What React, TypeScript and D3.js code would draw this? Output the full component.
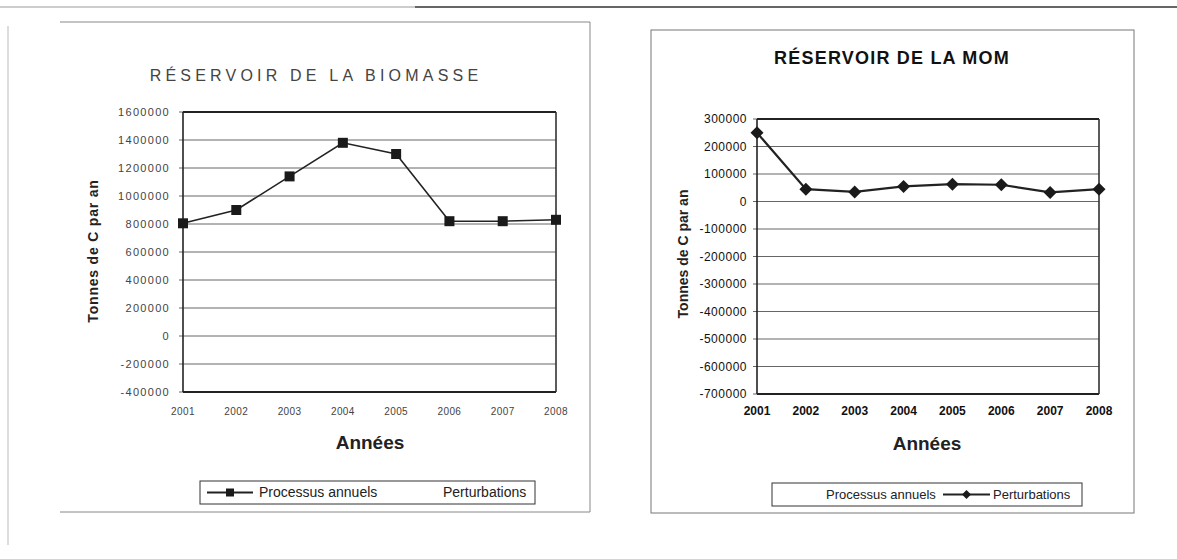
import React from "react";
import * as d3 from "d3";

const years = [2001, 2002, 2003, 2004, 2005, 2006, 2007, 2008];
const biomasseProcessus = [805000, 900000, 1140000, 1380000, 1300000, 820000, 820000, 830000];
const momPerturbations = [250000, 45000, 35000, 55000, 63000, 61000, 33000, 45000];
const biomasseTicks = [1600000, 1400000, 1200000, 1000000, 800000, 600000, 400000, 200000, 0, -200000, -400000];
const momTicks = [300000, 200000, 100000, 0, -100000, -200000, -300000, -400000, -500000, -600000, -700000];
const legendLabels = ["Processus annuels", "Perturbations"];
const titles = ["RÉSERVOIR DE LA BIOMASSE", "RÉSERVOIR DE LA MOM"];
const yTitle = "Tonnes de C par an";
const xTitle = "Années";

const FONT = "'Liberation Sans', Arial, sans-serif";

type Style = {
  textColor: string;
  titleSize: number; titleBold: boolean; titleSpacing: number;
  tickSize: number; tickSpacing: number; tickGap: number;
  xTickSize: number; xTickBold: boolean; xTickSpacing: number; xTickDy: number;
  yTitleSize: number; yTitleSpacing: number;
  legendSize: number;
  lineWidth: number;
};

type ChartProps = {
  title: string;
  values: number[];
  ticks: number[];
  x0: number; x1: number; y0: number; y1: number;
  marker: "square" | "diamond";
  titleX: number; titleY: number;
  yTitleX: number; yTitleY: number;
  xTitleX: number; xTitleY: number;
  legend: { x: number; y: number; w: number; h: number; textA: number; textB: number; lineA: number; lineB: number };
  st: Style;
};

function Chart(p: ChartProps) {
  const st = p.st;
  const x = d3.scaleLinear().domain([years[0], years[years.length - 1]]).range([p.x0, p.x1]);
  const y = d3.scaleLinear().domain([p.ticks[p.ticks.length - 1], p.ticks[0]]).range([p.y1, p.y0]);
  const line = d3.line<number>().x((_, i) => x(years[i])).y((d) => y(d));
  const markerPath = (cx: number, cy: number) => {
    if (p.marker === "square") {
      const s = 5;
      return `M${cx - s},${cy - s}h${2 * s}v${2 * s}h${-2 * s}Z`;
    }
    const s = 6.5;
    return `M${cx},${cy - s}L${cx + s},${cy}L${cx},${cy + s}L${cx - s},${cy}Z`;
  };
  const lg = p.legend;
  const lgMid = lg.y + lg.h / 2;
  const lgCx = (lg.lineA + lg.lineB) / 2;
  return (
    <g fontFamily={FONT}>
      <text x={p.titleX} y={p.titleY} textAnchor="middle" fontSize={st.titleSize} fontWeight={st.titleBold ? "bold" : "normal"} fill={st.textColor} letterSpacing={st.titleSpacing}>{p.title}</text>
      {p.ticks.map((t) => (
        <g key={t}>
          <line x1={p.x0 - 4} x2={p.x1} y1={y(t)} y2={y(t)} stroke="#666" strokeWidth={1} />
          <text x={p.x0 - st.tickGap} y={y(t)} dy="0.35em" textAnchor="end" fontSize={st.tickSize} fill={st.textColor} letterSpacing={st.tickSpacing}>{String(t)}</text>
        </g>
      ))}
      <line x1={p.x0} x2={p.x1} y1={p.y0} y2={p.y0} stroke="#222" strokeWidth={1.8} />
      <line x1={p.x0} x2={p.x1} y1={p.y1} y2={p.y1} stroke="#222" strokeWidth={1.8} />
      <line x1={p.x0} x2={p.x0} y1={p.y0} y2={p.y1} stroke="#222" strokeWidth={1.6} />
      <line x1={p.x1} x2={p.x1} y1={p.y0} y2={p.y1} stroke="#333" strokeWidth={1.6} />
      {years.map((yr) => (
        <text key={yr} x={x(yr)} y={p.y1 + st.xTickDy} textAnchor="middle" fontSize={st.xTickSize} fill={st.textColor} fontWeight={st.xTickBold ? "bold" : "normal"} letterSpacing={st.xTickSpacing}>{yr}</text>
      ))}
      <text x={p.xTitleX} y={p.xTitleY} textAnchor="middle" fontSize={19} fontWeight="bold" fill="#222">{xTitle}</text>
      <text transform={`translate(${p.yTitleX},${p.yTitleY}) rotate(-90)`} textAnchor="middle" dy="0.35em" fontSize={st.yTitleSize} fontWeight="bold" fill="#222" letterSpacing={st.yTitleSpacing}>{yTitle}</text>
      <path d={line(p.values) || ""} fill="none" stroke="#222" strokeWidth={st.lineWidth} />
      {p.values.map((v, i) => (
        <path key={i} d={markerPath(x(years[i]), y(v))} fill="#1a1a1a" />
      ))}
      <rect x={lg.x} y={lg.y} width={lg.w} height={lg.h} fill="white" stroke="#333" strokeWidth={1} />
      <line x1={lg.lineA} x2={lg.lineB} y1={lgMid} y2={lgMid} stroke="#222" strokeWidth={1.8} />
      <path d={p.marker === "square"
        ? `M${lgCx - 4},${lgMid - 4}h8v8h-8Z`
        : `M${lgCx},${lgMid - 4.5}l4.5,4.5l-4.5,4.5l-4.5,-4.5Z`} fill="#1a1a1a" />
      <text x={lg.textA} y={lgMid} dy="0.35em" fontSize={st.legendSize} fill="#222">{legendLabels[0]}</text>
      <text x={lg.textB} y={lgMid} dy="0.35em" fontSize={st.legendSize} fill="#222">{legendLabels[1]}</text>
    </g>
  );
}

const leftStyle: Style = {
  textColor: "#444",
  titleSize: 16, titleBold: false, titleSpacing: 4.2,
  tickSize: 11, tickSpacing: 1.3, tickGap: 13,
  xTickSize: 10, xTickBold: false, xTickSpacing: 0.4, xTickDy: 23,
  yTitleSize: 14, yTitleSpacing: 0.8,
  legendSize: 14,
  lineWidth: 1.6,
};

const rightStyle: Style = {
  textColor: "#111",
  titleSize: 18, titleBold: true, titleSpacing: 1.2,
  tickSize: 12, tickSpacing: 0.5, tickGap: 10,
  xTickSize: 12, xTickBold: true, xTickSpacing: 0, xTickDy: 21,
  yTitleSize: 14, yTitleSpacing: 0,
  legendSize: 13,
  lineWidth: 2.2,
};

export default function App() {
  return (
    <svg width={1177} height={559} style={{ position: "absolute", left: 0, top: 0, background: "white" }}>
      <line x1={0} x2={415} y1={7} y2={7} stroke="#999" strokeWidth={1} />
      <line x1={415} x2={1177} y1={7} y2={7} stroke="#333" strokeWidth={1.5} />
      <line x1={8} x2={8} y1={26} y2={545} stroke="#bbb" strokeWidth={1} />
      <line x1={60} x2={590} y1={22} y2={22} stroke="#888" strokeWidth={1} />
      <line x1={590} x2={590} y1={22} y2={512} stroke="#888" strokeWidth={1} />
      <line x1={60} x2={590} y1={512} y2={512} stroke="#888" strokeWidth={1} />
      <rect x={651} y={30} width={483} height={483} fill="none" stroke="#777" strokeWidth={1} />
      <Chart
        title={titles[0]} values={biomasseProcessus} ticks={biomasseTicks}
        x0={183} x1={556} y0={112} y1={392} marker="square"
        titleX={316} titleY={81} yTitleX={93} yTitleY={251} xTitleX={370} xTitleY={449}
        st={leftStyle}
        legend={{ x: 200, y: 481, w: 335, h: 23, textA: 259, textB: 443, lineA: 207, lineB: 253 }}
      />
      <Chart
        title={titles[1]} values={momPerturbations} ticks={momTicks}
        x0={757} x1={1099} y0={119} y1={394} marker="diamond"
        titleX={892} titleY={64} yTitleX={683} yTitleY={254} xTitleX={927} xTitleY={450}
        st={rightStyle}
        legend={{ x: 772, y: 483, w: 310, h: 23, textA: 826, textB: 993, lineA: 943, lineB: 990 }}
      />
    </svg>
  );
}
